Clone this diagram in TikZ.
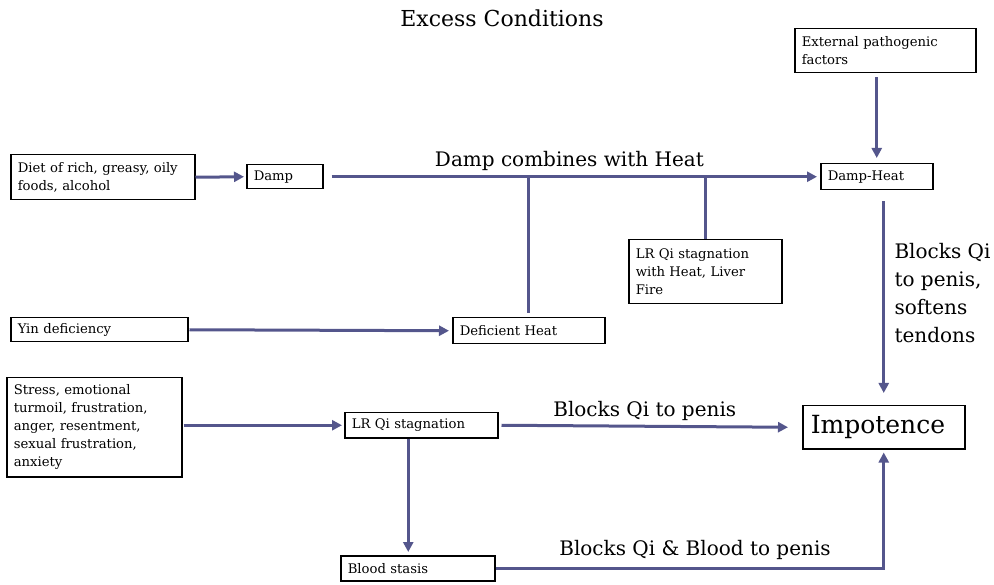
\documentclass[tikz,border=0pt]{standalone}
\usepackage{fontspec}
\setmainfont{DejaVu Serif}
\usetikzlibrary{arrows.meta, positioning}
\definecolor{flowblue}{RGB}{84,86,140}

\begin{document}
\begin{tikzpicture}[
  x=1pt, y=-1pt,
  box/.style={draw, line width=1.5pt, anchor=north west, align=left, inner xsep=7pt, inner ysep=3pt,
    font=\fontsize{13.2}{18}\selectfont},
  flow/.style={-{Triangle[length=10pt, width=10pt]}, line width=3pt, flowblue},
  link/.style={line width=3pt, flowblue},
  lbl/.style={text=black, font=\fontsize{20}{28}\selectfont}
]
  \useasboundingbox (0,0) rectangle (994,585);
  \node[font=\fontsize{22}{26}\selectfont] (title) at (502,18) {Excess Conditions};

  % top row: Damp
  \node[box, text width=170pt, minimum height=45pt] (diet)    at (10,154)  {Diet of rich, greasy, oily\\foods, alcohol};
  \node[box, text width=62pt,  minimum height=24pt] (damp)    at (246,164) {Damp};
  \node[box, text width=98pt,  minimum height=26pt] (dampheat) at (820,163) {Damp-Heat};
  \node[box, text width=167pt, minimum height=44pt] (ext)     at (794,28)  {External pathogenic\\factors};
  \node[box, text width=139pt, minimum height=64pt] (lrheat)  at (628,239) {LR Qi stagnation\\with Heat, Liver\\Fire};
  \node[box, text width=163pt, minimum height=24pt] (yin)     at (10,317)  {Yin deficiency};
  \node[box, text width=138pt, minimum height=26pt] (defheat) at (452,317) {Deficient Heat};

  % lower part: Qi stagnation
  \node[box, text width=161pt, minimum height=99pt] (stress)  at (6,377)   {Stress, emotional\\turmoil, frustration,\\anger, resentment,\\sexual frustration,\\anxiety};
  \node[box, text width=139pt, minimum height=25pt] (lrqi)    at (344,412) {LR Qi stagnation};
  \node[box, text width=140pt, minimum height=25pt] (blood)   at (340,555) {Blood stasis};
  \node[box, text width=146pt, minimum height=43pt, inner xsep=8pt, font=\fontsize{25}{30}\selectfont] (impot) at (802,405) {Impotence};

  \draw[flow] (diet.east) -- ([xshift=-2pt]damp.west);
  \draw[flow] ([xshift=8pt]damp.east) -- node[lbl, above=1pt, pos=0.49] (dchlbl) {Damp combines with Heat} ([xshift=-3pt]dampheat.west);
  \draw[link] ([yshift=4pt]defheat.north) -- (defheat.north |- damp.east);
  \draw[link] (lrheat.north) -- (lrheat.north |- damp.east);
  \draw[flow] ([yshift=-4pt]ext.south -| dampheat.north) -- ([yshift=5pt]dampheat.north);
  \draw[flow] ([yshift=-11pt]impot.north |- dampheat.south) -- ([yshift=12pt]impot.north);
  \node[lbl, anchor=north west, align=left] (softlbl) at (891,240) {Blocks Qi\\to penis,\\softens\\tendons};

  \draw[flow] ([xshift=1pt]yin.east) -- ([xshift=-3pt]defheat.west);
  \draw[flow] ([xshift=1pt]stress.east |- lrqi.west) -- ([xshift=-2pt]lrqi.west);
  \draw[flow] ([xshift=3pt]lrqi.east) -- node[lbl, above=1pt] (qilbl) {Blocks Qi to penis} ([xshift=-14pt]impot.west);
  \draw[flow] ([xshift=-13pt]lrqi.south) -- ([xshift=-13pt, yshift=3pt]lrqi.south |- blood.north);
  \draw[flow] (blood.east) -| ([yshift=-3pt]impot.south);
  \node[lbl] (bloodlbl) at (695,550) {Blocks Qi \& Blood to penis};
\end{tikzpicture}
\end{document}
